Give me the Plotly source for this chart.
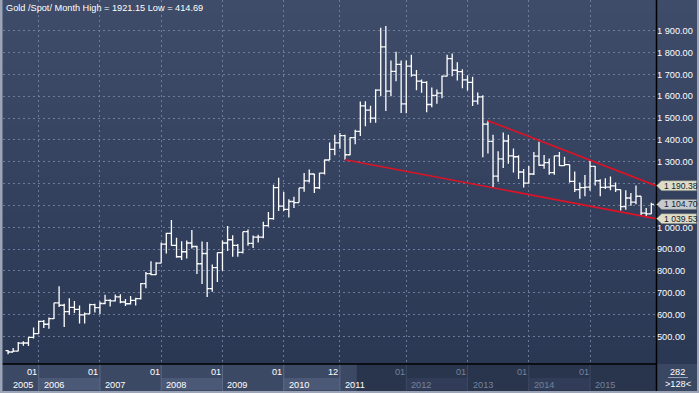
import plotly.graph_objects as go

# ---------------- data (monthly gold spot, Jul 2005 .. Jan 2016) ----------------
months = [f"{y}-{m:02d}" for y in range(2005, 2017) for m in range(1, 13)][6:6 + 127]

opens = [
    435.0, 429.0, 433.4, 469.3, 470.2, 495.7,
    513.0, 568.8, 556.0, 582.0, 654.0, 643.0, 614.0, 633.0, 624.0, 599.0, 604.0, 646.0,
    632.0, 651.0, 665.0, 663.0, 681.0, 658.0, 650.0, 665.0, 673.0, 742.0, 788.0, 783.0,
    836.0, 923.0, 972.0, 917.0, 865.0, 888.0, 928.0, 912.0, 833.0, 880.0, 719.0, 815.0,
    884.0, 928.0, 943.0, 917.0, 885.0, 980.0, 926.0, 955.0, 955.0, 1008.0, 1040.0, 1182.0,
    1097.0, 1082.0, 1118.0, 1113.0, 1180.0, 1212.0, 1244.0, 1181.0, 1248.0, 1308.0, 1357.0, 1386.0,
    1420.0, 1332.0, 1410.0, 1439.0, 1556.0, 1536.0, 1500.0, 1628.0, 1826.0, 1623.0, 1714.0, 1746.0,
    1565.0, 1738.0, 1697.0, 1669.0, 1663.0, 1562.0, 1604.0, 1614.0, 1692.0, 1772.0, 1719.0, 1713.0,
    1675.0, 1663.0, 1578.0, 1597.0, 1472.0, 1393.0, 1234.0, 1313.0, 1395.0, 1327.0, 1323.0, 1253.0,
    1202.0, 1244.0, 1326.0, 1284.0, 1296.0, 1250.0, 1327.0, 1282.0, 1287.0, 1210.0, 1172.0, 1182.0,
    1184.0, 1279.0, 1213.0, 1183.0, 1184.0, 1190.0, 1172.0, 1095.0, 1134.0, 1115.0, 1142.0, 1065.0,
    1061.0,
]
highs = [
    438.3, 447.9, 475.2, 478.0, 497.0, 541.0,
    571.0, 575.0, 587.0, 655.0, 730.0, 650.0, 675.0, 663.0, 642.0, 610.0, 650.0, 650.0,
    660.0, 691.0, 670.0, 692.0, 693.0, 672.0, 685.0, 677.0, 745.0, 795.0, 845.0, 840.0,
    930.0, 975.0, 1033.0, 952.0, 936.0, 940.0, 988.0, 915.0, 935.0, 933.0, 830.0, 885.0,
    940.0, 1006.0, 964.0, 924.0, 980.0, 990.0, 962.0, 966.0, 1025.0, 1070.0, 1195.0, 1227.0,
    1162.0, 1128.0, 1140.0, 1180.0, 1249.0, 1265.0, 1245.0, 1250.0, 1310.0, 1388.0, 1424.0, 1432.0,
    1424.0, 1412.0, 1447.0, 1576.0, 1577.0, 1556.0, 1632.0, 1913.0, 1921.15, 1764.0, 1804.0, 1764.0,
    1763.0, 1790.0, 1720.0, 1676.0, 1669.0, 1640.0, 1631.0, 1695.0, 1790.0, 1796.0, 1755.0, 1723.0,
    1696.0, 1689.0, 1617.0, 1605.0, 1488.0, 1424.0, 1348.0, 1434.0, 1424.0, 1361.0, 1330.0, 1267.0,
    1280.0, 1345.0, 1392.0, 1331.0, 1315.0, 1327.0, 1345.0, 1323.0, 1287.0, 1255.0, 1205.0, 1239.0,
    1307.0, 1280.0, 1220.0, 1224.0, 1232.0, 1205.0, 1173.0, 1170.0, 1157.0, 1191.0, 1142.0, 1088.0,
    1112.0,
]
lows = [
    418.2, 429.0, 433.0, 457.3, 456.8, 490.5,
    513.0, 538.8, 535.0, 580.5, 635.0, 543.0, 600.0, 608.0, 560.0, 560.0, 603.0, 610.0,
    602.0, 648.0, 637.0, 660.0, 652.0, 640.0, 646.0, 642.0, 669.0, 721.0, 780.0, 781.0,
    835.0, 880.0, 915.0, 860.0, 850.0, 857.0, 903.0, 786.0, 740.0, 681.0, 705.0, 750.0,
    801.0, 891.0, 865.0, 865.0, 880.0, 915.0, 905.0, 930.0, 950.0, 1003.0, 1035.0, 1075.0,
    1075.0, 1045.0, 1088.0, 1113.0, 1163.0, 1205.0, 1157.0, 1175.0, 1242.0, 1308.0, 1330.0, 1360.0,
    1309.0, 1330.0, 1380.0, 1418.0, 1462.0, 1478.0, 1478.0, 1600.0, 1532.0, 1600.0, 1668.0, 1523.0,
    1522.0, 1689.0, 1627.0, 1616.0, 1527.0, 1550.0, 1565.0, 1591.0, 1690.0, 1691.0, 1672.0, 1636.0,
    1626.0, 1555.0, 1562.0, 1321.0, 1338.0, 1180.0, 1208.0, 1271.0, 1291.0, 1251.0, 1221.0, 1182.0,
    1202.0, 1239.0, 1282.0, 1268.0, 1240.0, 1240.0, 1280.0, 1281.0, 1205.0, 1161.0, 1131.0, 1142.0,
    1167.0, 1191.0, 1142.0, 1175.0, 1170.0, 1162.0, 1077.0, 1080.0, 1098.0, 1106.0, 1052.0, 1046.0,
    1061.0,
]
closes = [
    429.0, 433.4, 469.3, 470.2, 495.7, 513.0,
    568.8, 556.0, 582.0, 654.0, 643.0, 614.0, 633.0, 624.0, 599.0, 604.0, 646.0, 632.0,
    651.0, 665.0, 663.0, 681.0, 658.0, 650.0, 665.0, 673.0, 742.0, 788.0, 783.0, 836.0,
    923.0, 972.0, 917.0, 865.0, 888.0, 928.0, 912.0, 833.0, 880.0, 719.0, 815.0, 884.0,
    928.0, 943.0, 917.0, 885.0, 980.0, 926.0, 955.0, 955.0, 1008.0, 1040.0, 1182.0, 1097.0,
    1082.0, 1118.0, 1113.0, 1180.0, 1212.0, 1244.0, 1181.0, 1248.0, 1308.0, 1357.0, 1386.0, 1420.0,
    1332.0, 1410.0, 1439.0, 1556.0, 1536.0, 1500.0, 1628.0, 1826.0, 1623.0, 1714.0, 1746.0, 1565.0,
    1738.0, 1697.0, 1669.0, 1663.0, 1562.0, 1604.0, 1614.0, 1692.0, 1772.0, 1719.0, 1713.0, 1675.0,
    1663.0, 1578.0, 1597.0, 1472.0, 1393.0, 1234.0, 1313.0, 1395.0, 1327.0, 1323.0, 1253.0, 1202.0,
    1244.0, 1326.0, 1284.0, 1296.0, 1250.0, 1327.0, 1282.0, 1287.0, 1210.0, 1172.0, 1182.0, 1184.0,
    1279.0, 1213.0, 1183.0, 1184.0, 1190.0, 1172.0, 1095.0, 1134.0, 1115.0, 1142.0, 1065.0, 1061.0,
    1104.70,
]

title_text = "Gold /Spot/ Month High = 1921.15 Low = 414.69"

# trend lines: start (month, price) -> value at right edge
upper_start = ("2013-05", 1488.0)
upper_end_value = 1190.38
lower_start = ("2011-01", 1309.0)
lower_end_value = 1039.53

# price tags on the right axis: (value, text, background)
tags = [
    (1190.38, "1 190.38", "rgb(222,221,200)"),
    (1104.70, "1 104.70", "rgb(198,202,206)"),
    (1039.53, "1 039.53", "rgb(222,221,200)"),
]

y_ticks = [500, 600, 700, 800, 900, 1000, 1100, 1200, 1300, 1400, 1500, 1600, 1700, 1800, 1900]
# labels at 1 100 and 1 200 are hidden behind the price tags in the original
y_hidden = [1100, 1200]
y_tick_text = [("" if v in y_hidden else f"{v:,}".replace(",", " ") + ".00") for v in y_ticks]

grid_months = ["2006-01", "2007-01", "2008-01", "2009-01", "2010-01", "2010-12",
               "2012-01", "2013-01", "2014-01", "2015-01"]
grid_labels = ["01", "01", "01", "01", "01", "12", "01", "01", "01", "01"]
year_labels = ["2005", "2006", "2007", "2008", "2009", "2010", "2011", "2012", "2013", "2014", "2015"]

counter_top = "282"
counter_bottom = ">128<"

# ---------------- layout geometry ----------------
W, H = 699, 393
ML, MR, MT, MB = 3, 43, 0, 29
PW, PH = W - ML - MR, H - MT - MB
XMIN, XMAX = -0.99, 126.92
YMIN, YMAX = 374.1, 2040.5
DARK_START = 68.3
FONT = "Liberation Sans, Arial, sans-serif"
FS = 9.2


def px(p):
    return (p - ML) / PW


def py(p):
    return (H - MB - p) / PH


x = list(range(len(months)))
kx = {m: i for i, m in enumerate(months)}

fig = go.Figure()
fig.add_trace(go.Ohlc(
    x=x, open=opens, high=highs, low=lows, close=closes,
    increasing=dict(line=dict(color="white", width=1.3)),
    decreasing=dict(line=dict(color="white", width=1.3)),
    tickwidth=0.5, hoverinfo="skip", showlegend=False,
))
for (m0, v0), v1 in [(upper_start, upper_end_value), (lower_start, lower_end_value)]:
    fig.add_trace(go.Scatter(
        x=[kx[m0], XMAX], y=[v0, v1], mode="lines",
        line=dict(color="rgb(222,18,38)", width=1.6),
        hoverinfo="skip", showlegend=False,
    ))

shapes = []
# gradient background for the plot area and right axis panel
N = 52
top_c, bot_c = (62, 76, 106), (43, 56, 84)
for i in range(N):
    t = i / (N - 1)
    c = tuple(round(top_c[j] + (bot_c[j] - top_c[j]) * t) for j in range(3))
    shapes.append(dict(type="rect", xref="paper", yref="paper", layer="below",
                       x0=px(0), x1=px(W), y0=py(364 * (i + 1) / N + 0.5), y1=py(364 * i / N),
                       fillcolor=f"rgb{c}", line=dict(width=0)))

# bottom time band
band_c = "rgb(60,73,101)"
light_c = "rgb(76,89,118)"
dark_c = "rgb(41,52,77)"
dark_light_c = "rgb(49,61,88)"
shapes.append(dict(type="rect", xref="paper", yref="paper", layer="below",
                   x0=px(0), x1=px(W), y0=py(H), y1=py(364), fillcolor=band_c, line=dict(width=0)))
shapes.append(dict(type="rect", xref="x", yref="paper", layer="below",
                   x0=DARK_START, x1=XMAX, y0=py(391), y1=py(364), fillcolor=dark_c, line=dict(width=0)))
starts = [XMIN] + [kx[m] for m in grid_months]
ends = starts[1:] + [XMAX]
for i, (s, e) in enumerate(zip(starts, ends)):
    if i % 2 == 1:
        col = light_c if s < DARK_START else dark_light_c
        shapes.append(dict(type="rect", xref="x", yref="paper", layer="below",
                           x0=s, x1=e, y0=py(390), y1=py(378), fillcolor=col, line=dict(width=0)))
for m in grid_months:
    k = kx[m]
    col = "rgb(92,106,136)" if k < DARK_START else "rgb(62,74,100)"
    shapes.append(dict(type="line", xref="x", yref="paper", layer="below",
                       x0=k, x1=k, y0=py(391), y1=py(364), line=dict(color=col, width=1)))
# corner counter box
shapes.append(dict(type="rect", xref="paper", yref="paper", layer="above",
                   x0=px(657), x1=px(697), y0=py(391), y1=py(364.5),
                   fillcolor="rgb(58,71,99)", line=dict(width=0)))
shapes.append(dict(type="line", xref="paper", yref="paper", layer="above",
                   x0=px(668), x1=px(688), y0=py(377.5), y1=py(377.5),
                   line=dict(color="rgb(150,160,180)", width=1)))
# black frame lines
shapes.append(dict(type="line", xref="paper", yref="paper", layer="above",
                   x0=px(0), x1=px(656.5), y0=py(364), y1=py(364),
                   line=dict(color="black", width=1.5)))
shapes.append(dict(type="line", xref="paper", yref="paper", layer="above",
                   x0=px(656.5), x1=px(656.5), y0=py(H), y1=py(0),
                   line=dict(color="black", width=1.5)))
# light outer border
bc = "rgb(155,165,183)"
shapes.append(dict(type="rect", xref="paper", yref="paper", layer="above",
                   x0=px(0), x1=px(2.5), y0=py(H), y1=py(0), fillcolor=bc, line=dict(width=0)))
shapes.append(dict(type="rect", xref="paper", yref="paper", layer="above",
                   x0=px(0), x1=px(W), y0=py(H), y1=py(391), fillcolor=bc, line=dict(width=0)))
shapes.append(dict(type="rect", xref="paper", yref="paper", layer="above",
                   x0=px(697), x1=px(W), y0=py(H), y1=py(0), fillcolor=bc, line=dict(width=0)))

# price tags
half = 5.0 / (PH / (YMAX - YMIN))
annotations = []
for v, txt, bg in tags:
    xt, xb, xe = px(656.5), px(661.5), px(696.5)
    shapes.append(dict(type="path", xref="paper", yref="y", layer="above",
                       path=f"M {xt},{v} L {xb},{v + half} L {xe},{v + half} L {xe},{v - half} L {xb},{v - half} Z",
                       fillcolor=bg, line=dict(color="rgb(110,115,110)", width=0.6)))
    annotations.append(dict(xref="paper", yref="y", x=px(661.5), y=v, xanchor="left", yanchor="middle",
                            text=txt, showarrow=False, font=dict(family=FONT, size=8.6, color="rgb(20,28,45)")))

# title
annotations.append(dict(xref="paper", yref="paper", x=px(4), y=py(8), xanchor="left", yanchor="middle",
                        text=title_text, showarrow=False, font=dict(family=FONT, size=FS, color="white")))
# month labels & year labels
dim = "rgb(118,130,154)"
for m, lab in zip(grid_months, grid_labels):
    k = kx[m]
    annotations.append(dict(xref="x", yref="paper", x=k, y=py(371.5), xanchor="right", yanchor="middle",
                            xshift=0.5, text=lab, showarrow=False,
                            font=dict(family=FONT, size=FS, color="white" if k < DARK_START else dim)))
for s, lab in zip(starts, year_labels):
    annotations.append(dict(xref="x", yref="paper", x=s, y=py(384.5), xanchor="left", yanchor="middle",
                            xshift=8 if s == XMIN else 3, text=lab, showarrow=False,
                            font=dict(family=FONT, size=FS, color="white" if s < DARK_START else dim)))
annotations.append(dict(xref="paper", yref="paper", x=px(677.5), y=py(371.5), xanchor="center", yanchor="middle",
                        text=counter_top, showarrow=False, font=dict(family=FONT, size=FS, color="white")))
annotations.append(dict(xref="paper", yref="paper", x=px(677.5), y=py(384), xanchor="center", yanchor="middle",
                        text=counter_bottom, showarrow=False, font=dict(family=FONT, size=FS, color="white")))

grid_col = "rgba(118,134,165,0.85)"
fig.update_layout(
    width=W, height=H,
    margin=dict(l=ML, r=MR, t=MT, b=MB, pad=0),
    paper_bgcolor="rgb(43,56,84)",
    plot_bgcolor="rgba(0,0,0,0)",
    showlegend=False,
    hovermode=False,
    shapes=shapes,
    annotations=annotations,
    xaxis=dict(range=[XMIN, XMAX], tickvals=[kx[m] for m in grid_months], showticklabels=False,
               showgrid=True, gridcolor=grid_col, griddash="2px,3px", gridwidth=1,
               zeroline=False, showline=False, ticks="", rangeslider=dict(visible=False), fixedrange=True),
    yaxis=dict(range=[YMIN, YMAX], side="right", tickvals=y_ticks, ticktext=y_tick_text,
               showgrid=True, gridcolor=grid_col, griddash="2px,3px", gridwidth=1,
               zeroline=False, showline=False, ticks="",
               tickfont=dict(family=FONT, size=FS, color="white"), fixedrange=True),
)

fig.write_html("out.html", config={"displayModeBar": False},
               post_script="document.body.style.margin='0';document.body.style.overflow='hidden';")
